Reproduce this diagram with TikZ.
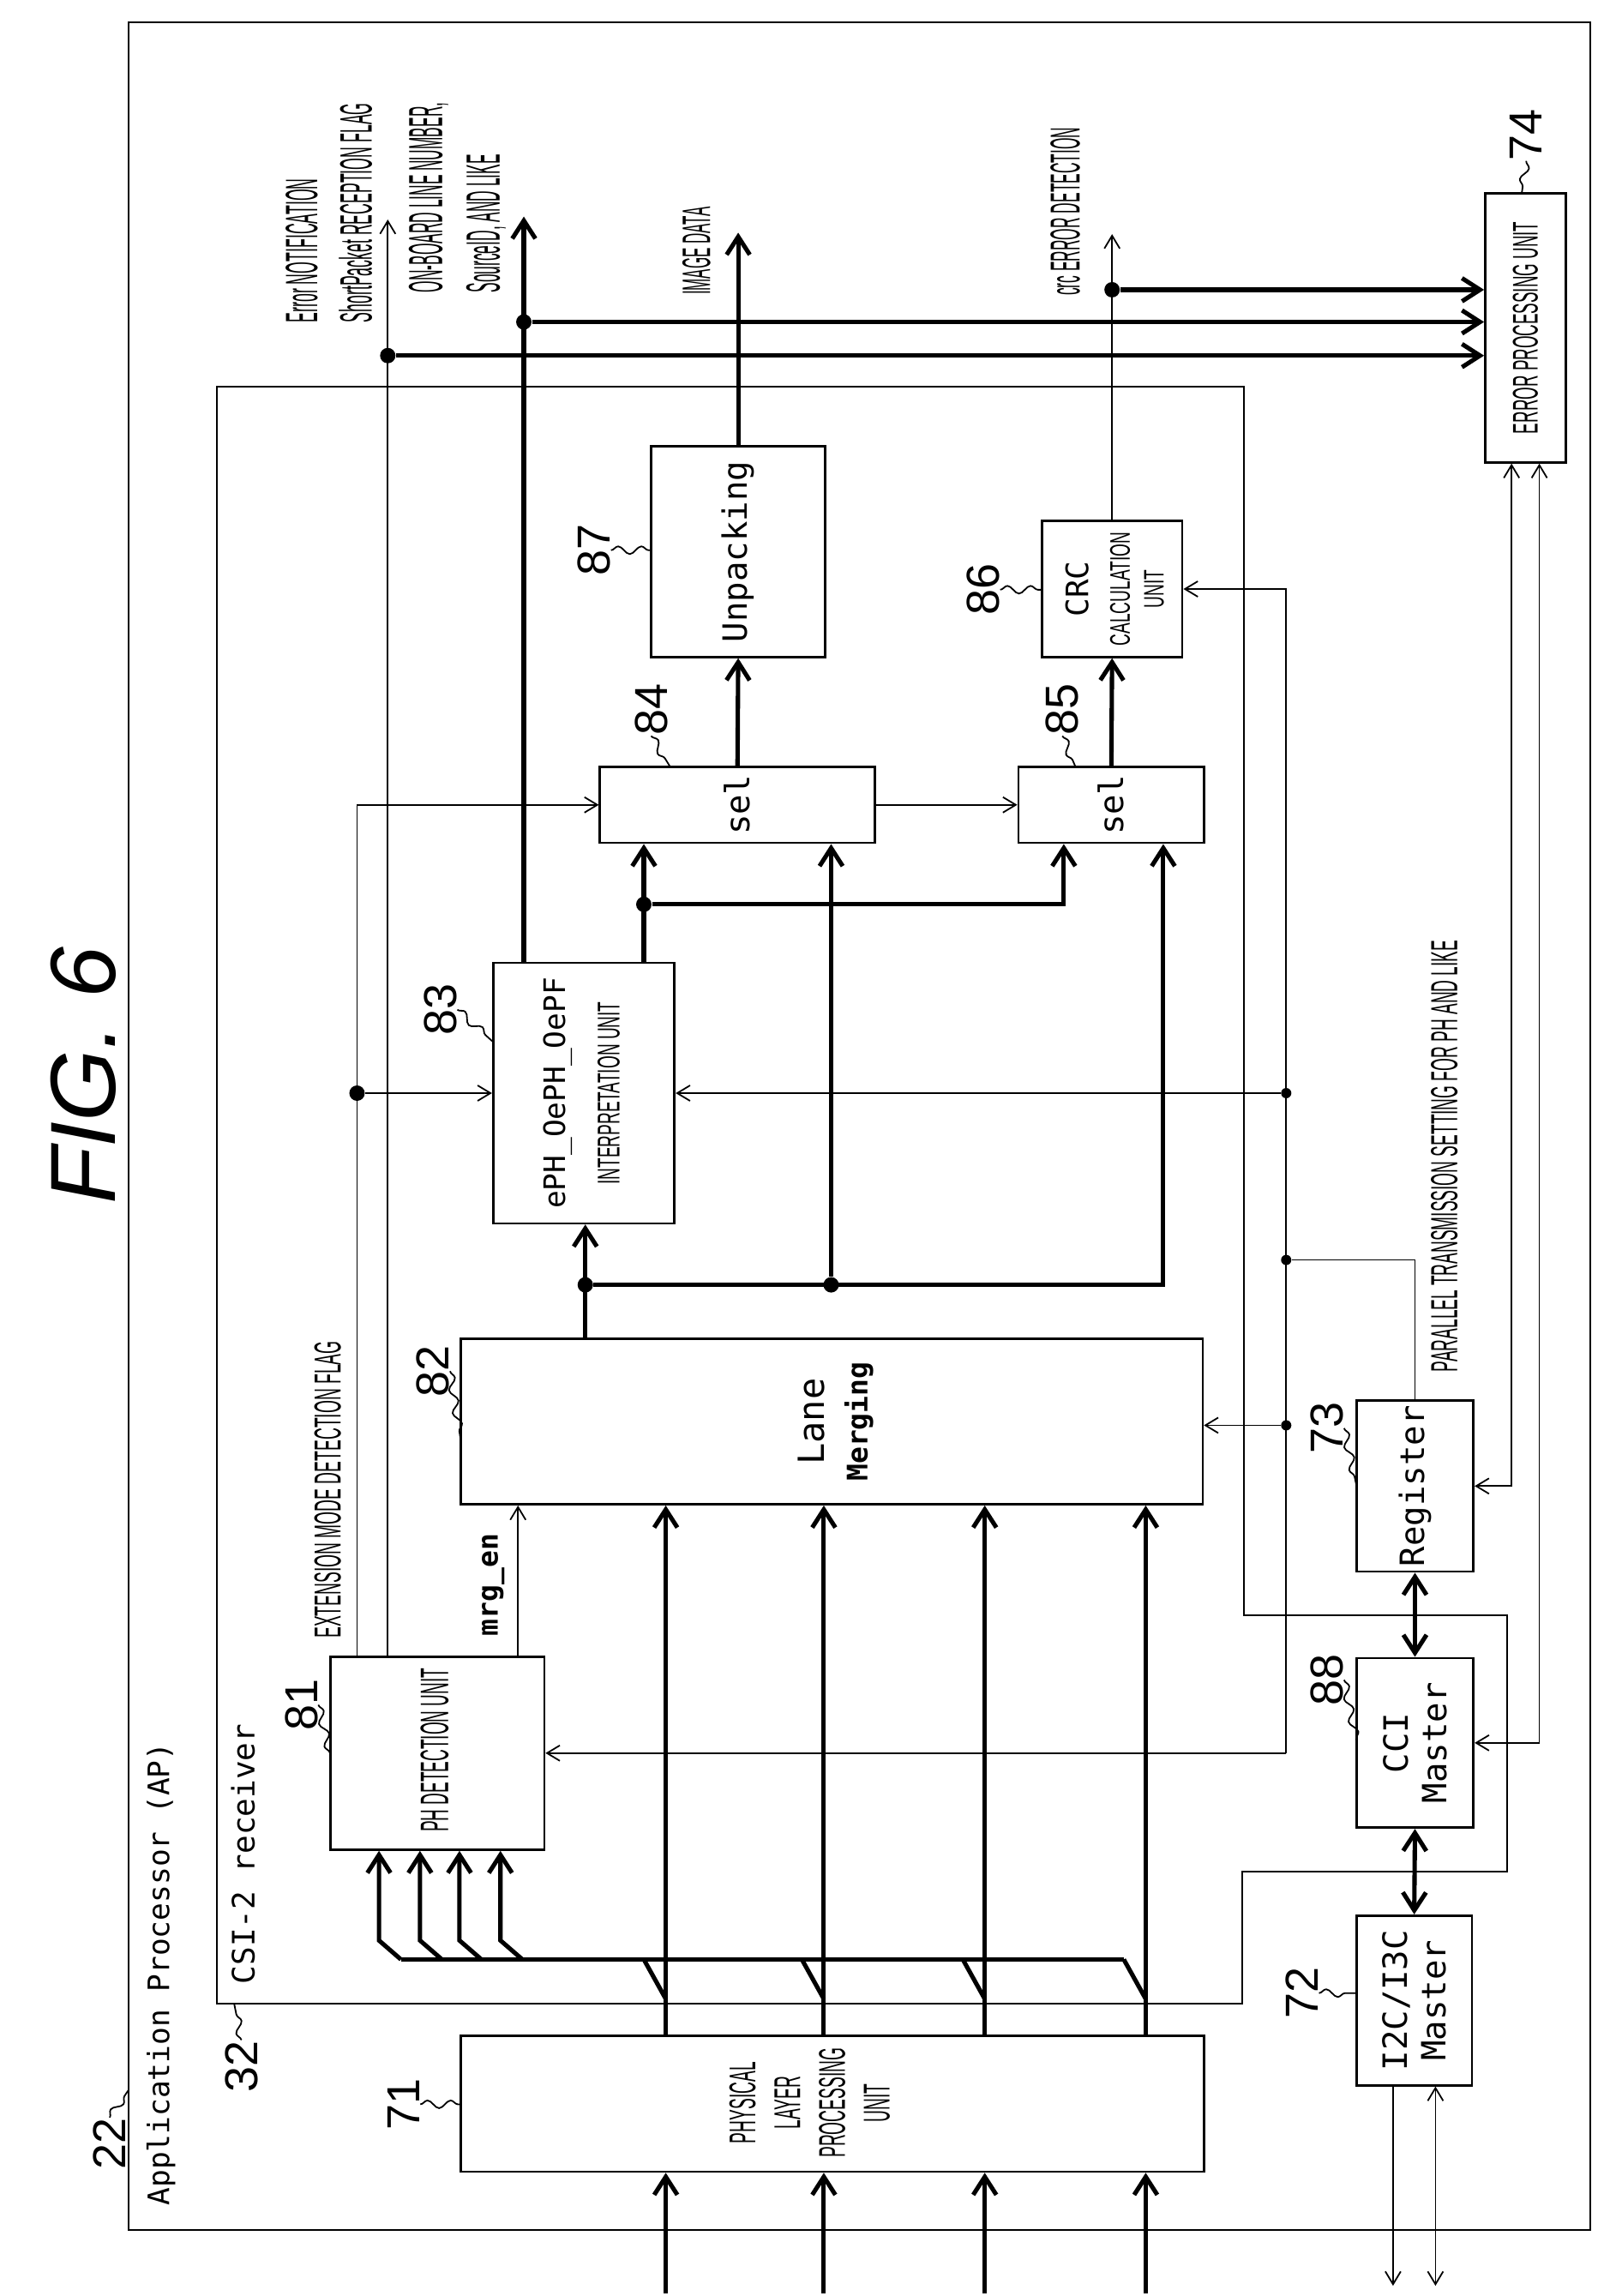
\documentclass[tikz,border=0pt]{standalone}
\usepackage{fontspec}
\setsansfont{Liberation Sans}
\setmonofont{DejaVu Sans Mono}
\usepackage{graphicx}
\usetikzlibrary{arrows.meta}
\usetikzlibrary{decorations.pathmorphing}

\tikzset{
  blk/.style={draw, line width=0.9pt, inner sep=0pt},
  bus/.style={line width=1.7pt, >={Straight Barb[length=7pt,width=9pt]}},
  sig/.style={line width=0.6pt, >={Straight Barb[length=5pt,width=6pt]}},
  dot/.style={circle, fill, inner sep=0pt, minimum size=6pt},
  num/.style={font=\sffamily\fontsize{18}{18}\selectfont, rotate=90, inner sep=0pt},
  lead/.style={line width=0.6pt, decorate, decoration={snake, amplitude=1.5pt, segment length=9pt}},
  txt/.style={rotate=90, inner sep=0pt, align=center},
  mono/.style={txt, font=\ttfamily\fontsize{13}{15}\selectfont},
}
\newcommand{\cnd}[3]{\resizebox{#1}{#2}{\sffamily #3}}

\begin{document}
\begin{tikzpicture}[x=0.02cm, y=-0.02cm]
    \useasboundingbox (0,0) rectangle (1100,1569);
    % outer frames
    \draw[line width=0.7pt] (88,15) rectangle (1087,1524);
    \draw[line width=0.7pt] (148,264) -- (850,264) -- (850,1104) -- (1030,1104) -- (1030,1279)
        -- (849,1279) -- (849,1369) -- (148,1369) -- cycle;
    \node[txt, font=\sffamily\itshape\fontsize{36}{36}\selectfont] (fig) at (57,735) {FIG. 6};
    \node[txt, font=\ttfamily\fontsize{11.5}{12}\selectfont] (tap) at (110,1349) {Application Processor (AP)};
    \node[txt, font=\ttfamily\fontsize{12}{12}\selectfont] (tcsi) at (166,1267) {CSI-2 receiver};
    % blocks
    \node[blk, minimum width=10.16cm, minimum height=1.86cm] (n71) at (569,1437.5) {};
    \node[blk, minimum width=1.58cm, minimum height=2.32cm] (n72) at (966.5,1367) {};
    \node[blk, minimum width=1.6cm, minimum height=2.32cm] (n88) at (967,1191) {};
    \node[blk, minimum width=1.6cm, minimum height=2.34cm] (n73) at (967,1015.5) {};
    \node[blk, minimum width=1.1cm, minimum height=3.68cm] (n74) at (1042.5,224) {};
    \node[blk, minimum width=2.92cm, minimum height=2.64cm] (n81) at (299,1198) {};
    \node[blk, minimum width=10.14cm, minimum height=2.26cm] (n82) at (568.5,971.5) {};
    \node[blk, minimum width=2.48cm, minimum height=3.56cm] (n83) at (399,747) {};
    \node[blk, minimum width=3.76cm, minimum height=1.04cm] (n84) at (504,550) {};
    \node[blk, minimum width=2.54cm, minimum height=1.04cm] (n85) at (759.5,550) {};
    \node[blk, minimum width=2.38cm, minimum height=2.88cm] (n87) at (504.5,377) {};
    \node[blk, minimum width=1.92cm, minimum height=1.86cm] (n86) at (760,402.5) {};
    % block texts
    \node[txt] (t71) at (556,1437) {\cnd{1.5cm}{1.35cm}{\begin{tabular}{@{}c@{}}PHYSICAL\\LAYER\\PROCESSING\\UNIT\end{tabular}}};
    \node[mono] (t72) at (n72) {I2C/I3C\\Master};
    \node[mono] (t88) at (n88) {CCI\\Master};
    \node[mono] (t73) at (n73) {Register};
    \node[txt] (t74) at (n74) {\cnd{2.9cm}{0.34cm}{ERROR PROCESSING UNIT}};
    \node[txt] (t81) at (297,1196) {\cnd{2.24cm}{0.38cm}{PH DETECTION UNIT}};
    \node[mono, font=\ttfamily\fontsize{14}{17}\selectfont] (t82) at (571,971.5) {Lane\\\bfseries\fontsize{11}{13}\selectfont Merging};
    \node[mono, font=\ttfamily\fontsize{11.5}{13}\selectfont] (t83a) at (381,747) {ePH\_OePH\_OePF};
    \node[txt] (t83b) at (416,747) {\cnd{2.5cm}{0.3cm}{INTERPRETATION UNIT}};
    \node[mono] (t84) at (n84) {sel};
    \node[mono] (t85) at (n85) {sel};
    \node[mono] (t87) at (n87) {Unpacking};
    \node[mono, font=\ttfamily\fontsize{12}{13}\selectfont] (t86a) at (736,402.5) {CRC};
    \node[txt] (t86b) at (779,402.5) {\cnd{1.55cm}{0.56cm}{\begin{tabular}{@{}c@{}}CALCULATION\\UNIT\end{tabular}}};
    % reference numerals
    \node[num] (r22) at (75,1465) {22};
    \node[num] (r32) at (165,1412) {32};
    \node[num] (r71) at (276,1438) {71};
    \node[num] (r72) at (890,1362) {72};
    \node[num] (r88) at (907,1148) {88};
    \node[num] (r73) at (907,976) {73};
    \node[num] (r74) at (1043,92) {74};
    \node[num] (r81) at (206,1165) {81};
    \node[num] (r82) at (296,937) {82};
    \node[num] (r83) at (301,690) {83};
    \node[num] (r84) at (445,485) {84};
    \node[num] (r85) at (726,485) {85};
    \node[num] (r87) at (406,376) {87};
    \node[num] (r86) at (672,403) {86};
    \draw[lead] (r22.east) -- (88,1428);
    \draw[lead] (r32.east) -- (160,1369);
    \draw[lead] (r71.south) -- (n71.west |- r71.south);
    \draw[lead] (r72.south) -- (n72.west |- r72.south);
    \draw[lead] (r88.south) -- (927,1190);
    \draw[lead] (r73.south) -- (927,1015);
    \draw[lead] (r74.west) -- (1040,132);
    \draw[lead] (r81.south) -- (226,1200);
    \draw[lead] (r82.south) -- (315,985);
    \draw[lead] (r83.south) -- (337,712);
    \draw[lead] (r84.west) -- (458,524);
    \draw[lead] (r85.west) -- (735,524);
    \draw[lead] (r87.south) -- (n87.west |- r87.south);
    \draw[lead] (r86.south) -- (n86.west |- r86.south);
    % lanes
    \foreach \x [count=\i] in {455,563,673,783} {
        \coordinate (in\i) at (\x,1567);
        \draw[bus,->] (in\i) -- (in\i |- n71.south);
        \draw[bus,->] (n71.north -| in\i) -- (n82.south -| in\i);
        \draw[bus] (\x,1366) -- (\x-15,1339);
    }
    \draw[bus] (274,1339) -- (768,1339);
    \foreach \x in {259,287,314,342}
        \draw[bus,->] (\x+15,1339) -- (\x,1326) -- (n81.south -| \x,0);
    % merged data
    \node[dot] (j1) at (400,878) {};
    \node[dot] (j2) at (568,878) {};
    \node[dot] (j3) at (440,618) {};
    \node[dot] (j4) at (358,220) {};
    \node[dot] (j5) at (760,198) {};
    \node[dot] (j6) at (244,747) {};
    \node[dot] (j7) at (265,243) {};
    \node[dot, minimum size=4pt] (j8) at (879,747) {};
    \node[dot, minimum size=4pt] (j9) at (879,861) {};
    \node[dot, minimum size=4pt] (j10) at (879,974) {};
    \draw[bus,->] (n82.north -| j1) -- (n83.south -| j1);
    \draw[bus,->] (j1) -- (795,878) -- (n85.south -| 795,0);
    \draw[bus,->] (j2) -- (n84.south -| j2);
    \draw[bus,->] (n83.north -| j3) -- (n84.south -| j3);
    \draw[bus,->] (j3) -- (727,618) -- (n85.south -| 727,0);
    \draw[bus,->] (n83.north -| j4) -- (358,148);
    \draw[bus,->] (j4) -- (n74.west |- j4);
    \draw[bus,->] (n84.north) -- (n87.south);
    \draw[bus,->] (n87.north) -- (504.5,159);
    \draw[sig,->] (n84.east) -- (n85.west);
    \draw[bus,->] (n85.north) -- (n86.south);
    \draw[sig,->] (n86.north) -- (760,160);
    \draw[bus,->] (j5) -- (n74.west |- j5);
    % PH detection outputs
    \draw[sig,->] (n81.north -| j6) -- (244,550) -- (n84.west);
    \draw[sig,->] (j6) -- (n83.west);
    \draw[sig,->] (n81.north -| j7) -- (265,150);
    \draw[bus,->] (j7) -- (n74.west |- j7);
    \draw[sig,->] (n81.north -| 354,0) -- (n82.south -| 354,0);
    % settings from register
    \draw[sig,->] (879,1198) -- (879,402.5) -- (n86.east);
    \draw[sig,->] (879,1198) -- (n81.east);
    \draw[sig,->] (j8) -- (n83.east);
    \draw[sig,->] (j10) -- (n82.east |- j10);
    \draw[sig] (j9) -- (967,861) -- (n73.north);
    \draw[bus,<->] (n73.south) -- (n88.north);
    \draw[bus,<->] (n88.south) -- (n72.north);
    \draw[sig,<->] (n73.east) -- (1033,1015.5) -- (n74.south -| 1033,0);
    \draw[sig,<->] (n88.east) -- (1052,1191) -- (n74.south -| 1052,0);
    \draw[sig,->] (n72.south -| 952,0) -- (952,1562);
    \draw[sig,<->] (n72.south -| 981,0) -- (981,1562);
    % signal names
    \node[txt] (sErr) at (228,145.5) {\cnd{3.0cm}{0.9cm}{\begin{tabular}{@{}l@{}}Error NOTIFICATION\\ShortPacket RECEPTION FLAG\end{tabular}}};
    \node[txt] (sLine) at (314,135) {\cnd{2.6cm}{0.95cm}{\begin{tabular}{@{}l@{}}ON-BOARD LINE NUMBER,\\SourceID, AND LIKE\end{tabular}}};
    \node[txt] (sImg) at (476,171.5) {\cnd{1.2cm}{0.38cm}{IMAGE DATA}};
    \node[txt] (sCrc) at (728,144.5) {\cnd{2.3cm}{0.4cm}{crc ERROR DETECTION}};
    \node[txt] (sExt) at (224,1018) {\cnd{4.06cm}{0.36cm}{EXTENSION MODE DETECTION FLAG}};
    \node[txt, font=\ttfamily\bfseries\fontsize{11}{12}\selectfont] (sMrg) at (337,1083) {mrg\_en};
    \node[txt] (sPar) at (987,790) {\cnd{5.9cm}{0.36cm}{PARALLEL TRANSMISSION SETTING FOR PH AND LIKE}};
\end{tikzpicture}
\end{document}
